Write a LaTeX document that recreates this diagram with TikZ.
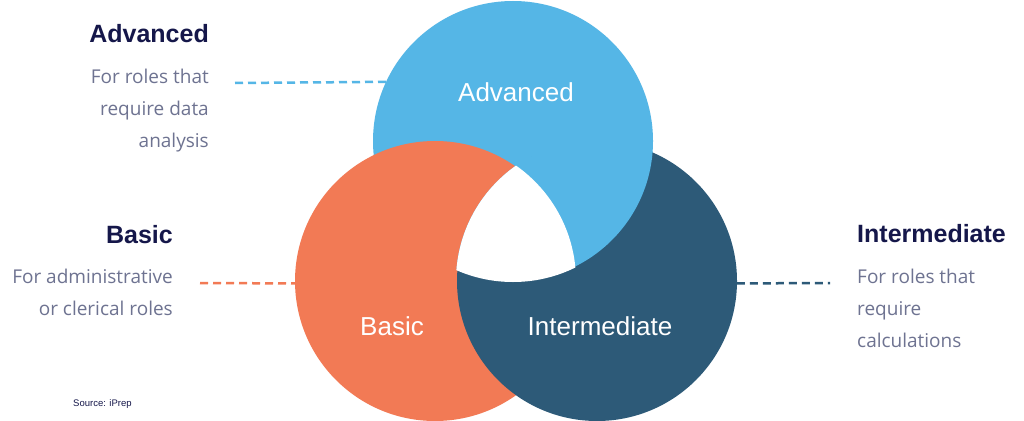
\documentclass[tikz,border=0pt]{standalone}
\usepackage{fontspec}
\setmainfont{Open Sans}
\newfontfamily\headfont{Liberation Sans}
\usetikzlibrary{positioning}
\definecolor{advblue}{HTML}{55B6E6}
\definecolor{basorange}{HTML}{F27A55}
\definecolor{intnavy}{HTML}{2D5A78}
\definecolor{headink}{HTML}{15174A}
\definecolor{bodyink}{HTML}{6E7391}

\begin{document}
\begin{tikzpicture}[x=1pt,y=-1pt,
  ring/.style={circle,minimum size=280pt,inner sep=0pt,outer sep=0pt},
  ringlabel/.style={text=white,font=\headfont\fontsize{26}{30}\selectfont},
  heading/.style={text=headink,inner sep=0pt,font=\headfont\bfseries\fontsize{25}{30}\selectfont},
  blurb/.style={text=bodyink,inner sep=0pt,font=\fontsize{19}{32}\selectfont},
  leader/.style={line width=2.5pt,dash pattern=on 8pt off 5pt}]
\useasboundingbox[fill=white] (0,0) rectangle (1024,420);
  \node[ring,fill=advblue]   (adv) at (513,141) {};
  \node[ring,fill=basorange] (bas) at (435,281) {};
  \node[ring,fill=intnavy]   (int) at (597,281) {};
% blue lies over navy where they meet
\begin{scope}
  \clip (int.center) circle[radius=141pt];
  \fill[advblue] (adv.center) circle[radius=140pt];
\end{scope}
% hole in the middle
\begin{scope}
  \clip (adv.center) circle[radius=141pt];
  \clip (bas.center) circle[radius=141pt];
  \fill[white] (int.center) circle[radius=141pt];
\end{scope}
  \node[ringlabel,anchor=base] (advname) at (516,101) {Advanced};
  \node[ringlabel,anchor=base] (basname) at (392,335) {Basic};
  \node[ringlabel,anchor=base] (intname) at (600,335) {Intermediate};
% side texts
  \node[heading,anchor=base east] (advhead) at (209,43) {Advanced};
  \node[blurb,align=right,below left=25pt and 0pt of advhead.south east] (advtext) {For roles that\\require data\\analysis};
  \node[heading,anchor=base east] (bashead) at (173,243) {Basic};
  \node[blurb,align=right,below left=25pt and 0pt of bashead.south east] (bastext) {For administrative\\or clerical roles};
  \node[heading,anchor=base west] (inthead) at (857,242) {Intermediate};
  \node[blurb,align=left,below right=26pt and 0pt of inthead.south west] (inttext) {For roles that\\require\\calculations};
  \node[text=headink,inner sep=0pt,font=\headfont\fontsize{9.5}{11}\selectfont,anchor=base west] (source) at (73,406) {Source: iPrep};
% leaders
  \coordinate (advtail) at (235,83);
  \coordinate (bastail) at (200,283);
  \coordinate (inttail) at (830,283);
  \draw[leader,advblue]   (advtail) -- (adv.155.5);
  \draw[leader,basorange] (bastail) -- (bas.181);
  \draw[leader,intnavy]   (int.-1) -- (inttail);
\end{tikzpicture}
\end{document}
